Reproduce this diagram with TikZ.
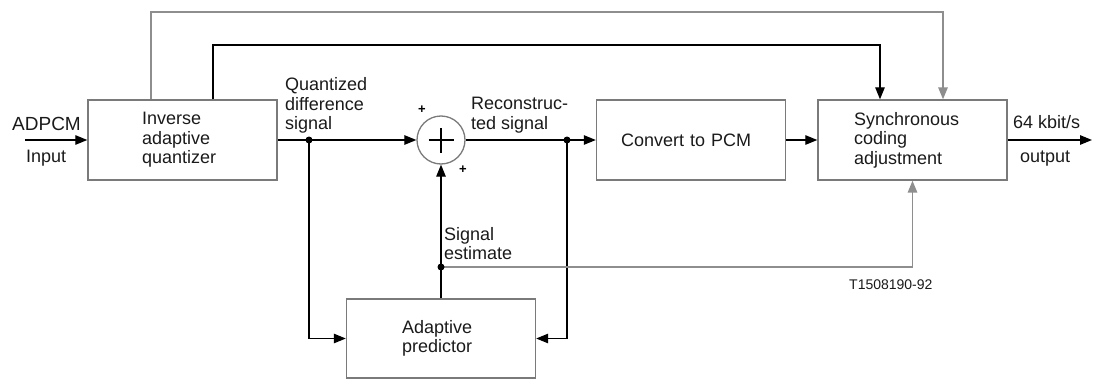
\documentclass[tikz,border=0pt]{standalone}
\usepackage{fontspec}
\setmainfont{Liberation Sans}
\usetikzlibrary{arrows.meta}
\definecolor{boxgray}{HTML}{7A7A7A}
\definecolor{auxgray}{HTML}{8E8E8E}
\definecolor{ink}{HTML}{1A1A1A}
\begin{document}
\begin{tikzpicture}[x=1pt,y=-1pt,
  txt/.style={font=\fontsize{18}{19.5}\selectfont,text=ink},
  block/.style={draw=boxgray,line width=1.4pt,minimum width=189pt,minimum height=80pt,
    inner sep=0pt,align=left,txt},
  sig/.style={draw=black,line width=1.2pt},
  aux/.style={draw=auxgray,line width=1.5pt},
  arr/.style={-{Triangle[length=12pt,width=9.5pt]}},
  lbl/.style={anchor=base west,inner sep=0pt,txt},
  tap/.style={circle,fill=black,inner sep=0pt,minimum size=7pt},
  sign/.style={inner sep=0pt,font=\fontsize{13}{13}\selectfont\bfseries}]
\useasboundingbox (0,0) rectangle (1093,380);

% processing blocks
\node[block,text width=81pt] (iaq) at (182.5,140) {Inverse\\adaptive\\quantizer};
\node[block,text width=140pt] (cpcm) at (691,140) {Convert to PCM};
\node[block,text width=117pt] (sca) at (912.5,140) {Synchronous\\coding\\adjustment};
\node[block,text width=78pt,minimum height=79pt] (pred) at (441,338.5) {Adaptive\\predictor};

% summing junction
\node[circle,draw=boxgray,line width=1.3pt,minimum size=48pt,inner sep=0pt] (add) at (441,140) {};
\draw[sig] ([xshift=-12.5pt]add.center) -- ([xshift=12.5pt]add.center)
           ([yshift=-12.5pt]add.center) -- ([yshift=12.5pt]add.center);
\node[sign] (p1) at (422,110) {+};
\node[sign] (p2) at (463,170) {+};

% branch points and free ends
\coordinate (in) at (25,140);
\coordinate (out) at (1092,140);
\coordinate (q) at (309,140);
\coordinate (r) at (567,140);
\coordinate (se) at (441,267);
\coordinate (topA) at (151,12);
\coordinate (topB) at (213,45);

% main signal path
\draw[sig,arr] (in) -- (iaq.west);
\draw[sig,arr] (iaq.east) -- (add.west);
\draw[sig,arr] (add.east) -- (cpcm.west);
\draw[sig,arr] (cpcm.east) -- (sca.west);
\draw[sig,arr] (sca.east) -- (out);

% predictor loop
\draw[sig,arr] (q) |- (pred.west);
\draw[sig,arr] (r) |- (pred.east);
\draw[sig,arr] (pred.north) -- (add.south);

% side information to the coding adjustment
\draw[aux,arr] (se) -| (sca.south);
\draw[aux,arr] (iaq.north -| topA) -- (topA) -| ([xshift=30.5pt]sca.north);
\draw[sig,arr] (iaq.north -| topB) -- (topB) -| ([xshift=-32.5pt]sca.north);

% junction dots
\node[tap] (qdot) at (q) {};
\node[tap] (rdot) at (r) {};
\node[tap] (sedot) at (se) {};

% labels
\node[lbl,font=\fontsize{19}{19.5}\selectfont] (l1) at (12,130) {ADPCM};
\node[lbl] (l2) at (26,162) {Input};
\node[lbl] (l3) at (285,90.5) {\begin{tabular}[t]{@{}l@{}}Quantized\\difference\\signal\end{tabular}};
\node[lbl] (l4) at (471,109.5) {\begin{tabular}[t]{@{}l@{}}Reconstruc-\\ted signal\end{tabular}};
\node[lbl] (l5) at (444,240) {\begin{tabular}[t]{@{}l@{}}Signal\\estimate\end{tabular}};
\node[lbl] (l6) at (1013,128.5) {64 kbit/s};
\node[lbl] (l7) at (1020,162) {output};
\node[lbl,font=\fontsize{14}{16}\selectfont] (l8) at (849,289) {T1508190-92};
\end{tikzpicture}
\end{document}
